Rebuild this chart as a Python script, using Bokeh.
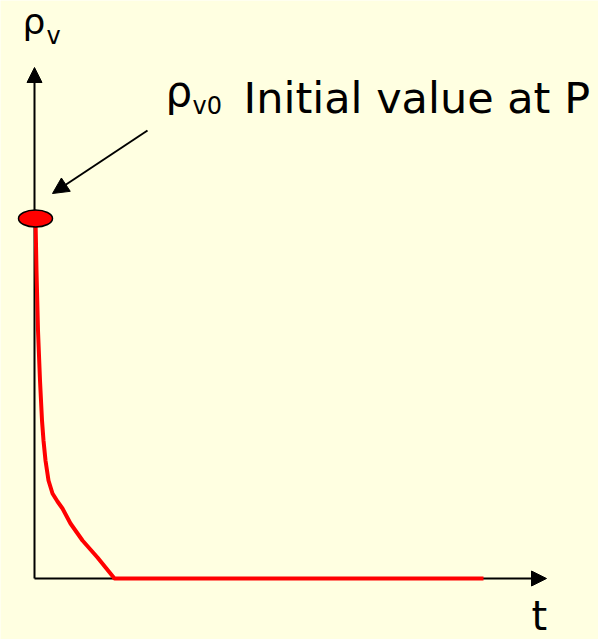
from bokeh.plotting import figure
from bokeh.models import Range1d, Arrow, NormalHead, ColumnDataSource
from bokeh.core.properties import value
from bokeh.embed import file_html
from bokeh.resources import INLINE

# Decay of the vapour density rho_v with time t (arbitrary units)
t_vals = [1, 2, 3.5, 5.5, 7.5, 9, 11, 14, 18, 23, 28, 36, 48, 63, 80, 449]
rho_vals = [360, 308, 248, 198, 158, 138, 118, 98, 85, 77, 70, 55, 38, 21, 0, 0]

# initial value at P
t0 = t_vals[0]
rho0 = rho_vals[0]

# axis extents (arrow tips)
t_axis_end = 512
rho_axis_end = 511

BG = "#FFFFE1"
FONT = value("DejaVu Sans")

p = figure(width=598, height=639, output_backend="svg", toolbar_location=None,
           x_range=Range1d(-34, 564), y_range=Range1d(-61, 578),
           min_border=0, min_border_left=0, min_border_right=0,
           min_border_top=0, min_border_bottom=0)
p.axis.visible = False
p.grid.visible = False
p.outline_line_color = None
p.background_fill_color = BG
p.border_fill_color = BG

# axes drawn as arrows, beneath the curve
p.add_layout(Arrow(x_start=0, y_start=0, x_end=0, y_end=rho_axis_end,
                   line_color="black", line_width=2, level="underlay",
                   end=NormalHead(size=15, fill_color="black", line_color="black")))
p.add_layout(Arrow(x_start=0, y_start=0, x_end=t_axis_end, y_end=0,
                   line_color="black", line_width=2, level="underlay",
                   end=NormalHead(size=15, fill_color="black", line_color="black")))

# decay curve
src = ColumnDataSource(dict(t=t_vals, rho=rho_vals))
p.line("t", "rho", source=src, line_color="#FF0000", line_width=4, line_join="round")

# marker for the initial value
p.ellipse(x=[t0], y=[rho0], width=34, height=17, fill_color="#FF0000",
          line_color="black", line_width=1.5)

# pointer to the initial value
p.add_layout(Arrow(x_start=113, y_start=448, x_end=t0 + 17, y_end=rho0 + 25,
                   line_color="black", line_width=2,
                   end=NormalHead(size=16, fill_color="black", line_color="black")))


def label(x, y, s, size):
    p.text(x=[x], y=[y], text=[s], text_font=FONT, text_font_size=f"{size}px",
           text_color="black", text_baseline="alphabetic")


# axis titles and annotation
label(-12, 557, "ρ", 36)
label(12, 543, "v", 24)

label(131, 486.6, "ρ", 42)
label(158, 473, "v0", 24)
label(209, 481, "Initial value at P", 43)

label(497, -37, "t", 40)

open("out.html", "w").write(file_html(p, INLINE))
